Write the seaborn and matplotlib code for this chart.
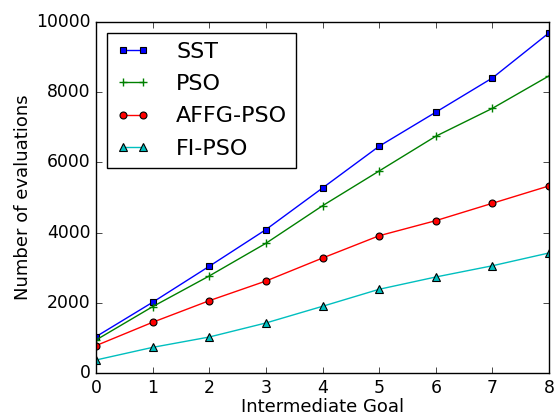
import matplotlib
matplotlib.use("Agg")
import matplotlib.pyplot as plt
import seaborn as sns
import pandas as pd

goals = [0, 1, 2, 3, 4, 5, 6, 7, 8]
sst = [1035, 2015, 3040, 4085, 5270, 6460, 7430, 8405, 9690]
pso = [940, 1890, 2765, 3695, 4765, 5755, 6745, 7540, 8465]
affg_pso = [780, 1445, 2060, 2620, 3275, 3910, 4340, 4835, 5330]
fi_pso = [370, 730, 1025, 1425, 1900, 2385, 2735, 3055, 3420]

plt.style.use("classic")
plt.rcParams["font.family"] = ["DejaVu Sans"]

fig = plt.figure(figsize=(5.54, 4.19), dpi=100)
ax = fig.add_axes([0.1733, 0.1098, 0.8177, 0.8377])

series = [
    ("SST", sst, "b", "s", 4.8),
    ("PSO", pso, "g", "+", 5.5),
    ("AFFG-PSO", affg_pso, "r", "o", 5),
    ("FI-PSO", fi_pso, "c", "^", 5.2),
]
for name, vals, col, mk, ms in series:
    df = pd.DataFrame({"x": goals, "y": vals})
    sns.lineplot(data=df, x="x", y="y", ax=ax, color=col, marker=mk,
                 markersize=ms, markeredgecolor="k" if mk != "+" else col,
                 markeredgewidth=0.8 if mk != "+" else 1.0,
                 linewidth=1.0, label=name, legend=False)

ax.set_xlim(0, 8)
ax.set_ylim(0, 10000)
ax.set_xticks(goals)
ax.set_yticks([0, 2000, 4000, 6000, 8000, 10000])
ax.tick_params(labelsize=12.4)
ax.set_xlabel("Intermediate Goal", fontsize=13, labelpad=1)
ax.set_ylabel("Number of evaluations", fontsize=13, labelpad=3)
leg = ax.legend(loc="upper left", fontsize=16, numpoints=2, handlelength=1.5,
                borderpad=0.4, labelspacing=0.55, handletextpad=1.2,
                borderaxespad=0.5)
fig.savefig("out.png", dpi=100)
